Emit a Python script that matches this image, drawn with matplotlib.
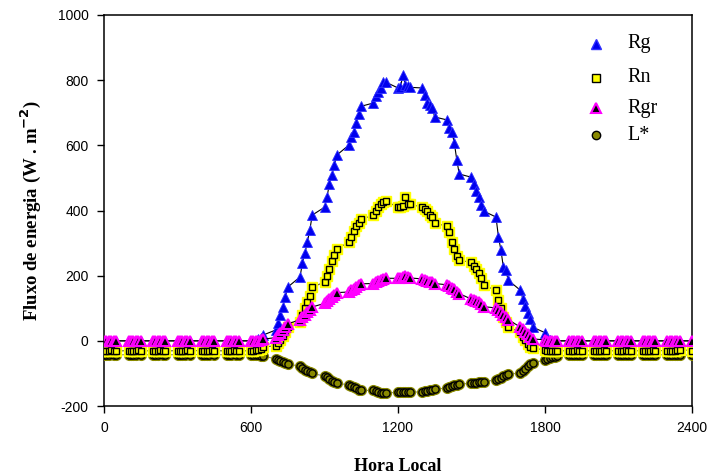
import matplotlib
matplotlib.use("Agg")
import matplotlib.pyplot as plt

plt.rcParams["axes.unicode_minus"] = False

# hora local no formato HHMM, de 10 em 10 minutos
horas = list(range(24))
minutos = [0, 10, 20, 30, 40, 50]
hora_local = [h * 100 + m for h in horas for m in minutos] + [2400]

# valores em W m-2, uma linha por hora
rg = [
    0, 0, 0, 0, 0, 0,
    0, 0, 0, 0, 0, 0,
    0, 0, 0, 0, 0, 0,
    0, 0, 0, 0, 0, 0,
    0, 0, 0, 0, 0, 0,
    0, 0, 0, 0, 0, 0,
    0, 0, 1, 5, 10, 18,
    33, 55, 79, 104, 134, 165,
    196, 239, 269, 303, 340, 386,
    410, 441, 481, 508, 539, 570,
    601, 625, 641, 668, 696, 720,
    730, 751, 764, 776, 794, 794,
    776, 779, 816, 785, 782, 778,
    776, 754, 730, 724, 714, 687,
    678, 653, 641, 607, 555, 512,
    502, 480, 460, 440, 417, 398,
    380, 319, 279, 227, 217, 186,
    155, 128, 107, 85, 67, 42,
    25, 8, 2, 0, 0, 0,
    0, 0, 0, 0, 0, 0,
    0, 0, 0, 0, 0, 0,
    0, 0, 0, 0, 0, 0,
    0, 0, 0, 0, 0, 0,
    0, 0, 0, 0, 0, 0,
    0,
]

rn = [
    -30, -31, -30, -29, -30, -31,
    -30, -30, -31, -30, -29, -30,
    -31, -30, -30, -29, -30, -31,
    -30, -31, -30, -30, -29, -30,
    -30, -30, -31, -30, -29, -30,
    -31, -30, -30, -29, -30, -31,
    -30, -30, -29, -27, -24, -19,
    -15, -8, 3, 14, 27, 42,
    58, 79, 100, 119, 137, 165,
    180, 199, 220, 245, 263, 282,
    303, 318, 337, 352, 362, 373,
    386, 398, 410, 420, 426, 429,
    410, 412, 413, 441, 420, 419,
    410, 404, 398, 386, 379, 361,
    352, 334, 303, 282, 260, 247,
    241, 230, 220, 208, 193, 171,
    155, 125, 101, 73, 58, 42,
    27, 12, 2, -10, -19, -22,
    -28, -30, -31, -30, -30, -31,
    -30, -31, -30, -29, -30, -31,
    -30, -30, -31, -30, -29, -30,
    -31, -30, -30, -29, -30, -31,
    -30, -31, -30, -30, -29, -30,
    -30, -30, -31, -30, -29, -27,
    -30,
]

rgr = [
    0, 0, 0, 0, 0, 0,
    0, 0, 0, 0, 0, 0,
    0, 0, 0, 0, 0, 0,
    0, 0, 0, 0, 0, 0,
    0, 0, 0, 0, 0, 0,
    0, 0, 0, 0, 0, 0,
    0, 0, 0, 0, 2, 5,
    10, 18, 25, 33, 42, 52,
    65, 72, 80, 88, 95, 104,
    115, 122, 128, 135, 142, 148,
    150, 155, 160, 165, 170, 175,
    176, 180, 184, 187, 190, 192,
    192, 194, 196, 198, 195, 193,
    190, 188, 185, 182, 180, 176,
    172, 168, 163, 158, 150, 145,
    128, 125, 122, 118, 112, 105,
    101, 95, 88, 80, 73, 65,
    42, 35, 28, 20, 12, 6,
    3, 1, 0, 0, 0, 0,
    0, 0, 0, 0, 0, 0,
    0, 0, 0, 0, 0, 0,
    0, 0, 0, 0, 0, 0,
    0, 0, 0, 0, 0, 0,
    0, 0, 0, 0, 0, 0,
    0,
]

l_estrela = [
    -42, -43, -42, -41, -42, -43,
    -42, -42, -43, -42, -41, -42,
    -43, -42, -42, -41, -42, -43,
    -42, -43, -42, -42, -41, -42,
    -42, -42, -43, -42, -41, -42,
    -43, -42, -42, -41, -42, -43,
    -42, -42, -43, -44, -45, -47,
    -55, -58, -62, -65, -68, -72,
    -77, -82, -88, -93, -97, -100,
    -108, -112, -117, -122, -127, -130,
    -135, -138, -142, -146, -150, -152,
    -152, -155, -157, -159, -160, -160,
    -158, -157, -157, -156, -157, -157,
    -157, -155, -153, -151, -150, -148,
    -145, -143, -140, -137, -135, -133,
    -130, -129, -128, -127, -126, -125,
    -120, -117, -113, -109, -105, -102,
    -99, -92, -85, -78, -72, -67,
    -59, -56, -53, -51, -50, -48,
    -44, -43, -42, -43, -44, -43,
    -43, -42, -43, -44, -43, -42,
    -43, -44, -43, -42, -43, -44,
    -43, -42, -43, -44, -43, -42,
    -43, -44, -43, -42, -43, -44,
    -43,
]

fig = plt.figure(figsize=(7.09, 4.73), dpi=100)
ax = fig.add_axes([0.1467, 0.1416, 0.8293, 0.8267])

# L* (circulos oliva)
ax.plot(hora_local, l_estrela, color="#808080", lw=0.8, zorder=2)
ax.plot(hora_local, l_estrela, ls="none", marker="o", ms=7, mfc="#8a8a00",
        mec="#8a8a00", zorder=3)
ax.plot(hora_local, l_estrela, ls="none", marker="o", ms=5.2, mfc="#8a8a00",
        mec="black", mew=1.0, zorder=3)

# Rn (quadrados amarelos)
ax.plot(hora_local, rn, color="#404040", lw=0.8, zorder=4)
ax.plot(hora_local, rn, ls="none", marker="s", ms=7, mfc="yellow",
        mec="yellow", zorder=5)
ax.plot(hora_local, rn, ls="none", marker="s", ms=4.8, mfc="yellow",
        mec="black", mew=1.0, zorder=5)

# Rg (triangulos azuis)
ax.plot(hora_local, rg, color="black", lw=0.8, zorder=6)
ax.plot(hora_local, rg, ls="none", marker="^", ms=7, mfc="#0000ee",
        mec="#3030ff", mew=0.6, zorder=7)

# Rgr (triangulos magenta com centro preto)
ax.plot(hora_local, rgr, color="black", lw=0.8, zorder=8)
ax.plot(hora_local, rgr, ls="none", marker="^", ms=7, mfc="black",
        mec="#ff00ff", mew=1.5, zorder=9)

ax.set_xlim(0, 2400)
ax.set_ylim(-200, 1000)
ax.set_xticks([0, 600, 1200, 1800, 2400])
ax.set_yticks([-200, 0, 200, 400, 600, 800, 1000])
ax.tick_params(direction="out", length=5, width=1, labelsize=10, pad=6)
for lab in ax.get_xticklabels() + ax.get_yticklabels():
    lab.set_fontfamily("Liberation Sans")
for s in ax.spines.values():
    s.set_linewidth(1.1)

ax.set_xlabel("Hora Local", fontfamily="Liberation Serif", fontweight="bold",
              fontsize=13, labelpad=16)
ax.set_ylabel("Fluxo de energia (W . m$^{\\mathbf{-2}}$)", fontfamily="Liberation Serif",
              fontweight="bold", fontsize=13.5, labelpad=11)

# legenda manual
leg_x_marker = 0.837
leg_x_text = 0.89
leg_items = [
    (0.926, "Rg", dict(marker="^", ms=7, mfc="#0000ee", mec="#3030ff")),
    (0.839, "Rn", dict(marker="s", ms=6, mfc="yellow", mec="black", mew=1.0)),
    (0.762, "Rgr", dict(marker="^", ms=7, mfc="black", mec="#ff00ff", mew=1.5)),
    (0.693, "L*", dict(marker="o", ms=6, mfc="#8a8a00", mec="black", mew=1.0)),
]
for yy, txt, kw in leg_items:
    ax.plot([leg_x_marker], [yy], transform=ax.transAxes, ls="none", clip_on=False, zorder=10, **kw)
    ax.text(leg_x_text, yy, txt, transform=ax.transAxes, va="center", ha="left",
            fontfamily="Liberation Serif", fontsize=14.5)

fig.savefig("out.png", dpi=100)
